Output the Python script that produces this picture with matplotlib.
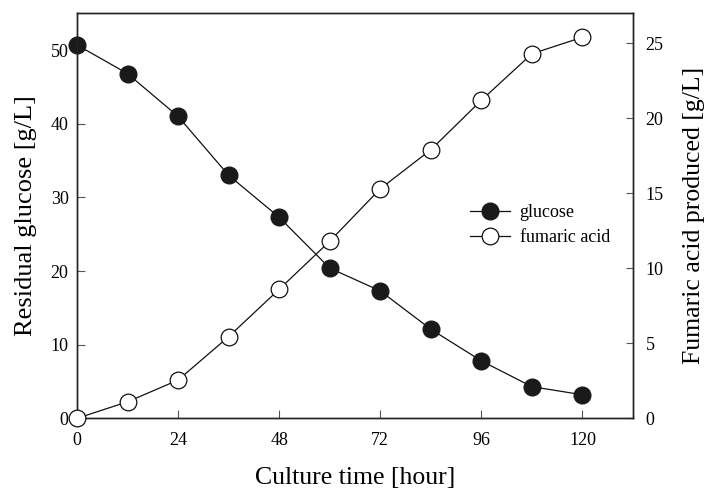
import matplotlib.pyplot as plt

# temps de culture (h)
temps = [0, 12, 24, 36, 48, 60, 72, 84, 96, 108, 120]
# glucose residuel (g/L)
glucose = [50.7, 46.8, 41.0, 33.0, 27.3, 20.4, 17.3, 12.1, 7.8, 4.3, 3.2]
# acide fumarique produit (g/L)
fumarique = [0.0, 1.1, 2.55, 5.44, 8.6, 11.8, 15.3, 17.9, 21.2, 24.3, 25.4]

x_ticks = [0, 24, 48, 72, 96, 120]
y1_ticks = [0, 10, 20, 30, 40, 50]
y2_ticks = [0, 5, 10, 15, 20, 25]

plt.rcParams['font.family'] = ['Liberation Serif', 'DejaVu Serif']

fig = plt.figure(figsize=(7.06, 4.91), dpi=100)
ax1 = fig.add_axes([0.109, 0.148, 0.7876, 0.825])
ax2 = ax1.twinx()

l1, = ax1.plot(temps, glucose, color='#111111', lw=0.9, marker='o', ms=12,
               mfc='#1a1a1a', mec='#1a1a1a', clip_on=False, label='glucose', zorder=3)
l2, = ax2.plot(temps, fumarique, color='#111111', lw=0.9, marker='o', ms=12,
               mfc='white', mec='#111111', mew=0.9, clip_on=False, label='fumaric acid', zorder=3)

ax1.set_xlim(0, 132)
ax1.set_ylim(0, 55)
ax2.set_ylim(0, 27)

ax1.set_xticks(x_ticks)
ax1.set_yticks(y1_ticks)
ax2.set_yticks(y2_ticks)

ax1.tick_params(axis='both', direction='in', length=6, width=0.8, labelsize=13, color='#555555', pad=6)
ax2.tick_params(axis='y', direction='in', length=5, width=0.8, labelsize=13, color='#555555', pad=9)
ax1.tick_params(axis='x', pad=10)

for a in (ax1, ax2):
    for s in a.spines.values():
        s.set_linewidth(1.0)
        s.set_color('#222222')

ax1.set_xlabel('Culture time [hour]', fontsize=18.5, labelpad=13)
ax1.set_ylabel('Residual glucose [g/L]', fontsize=19, labelpad=10)
ax2.set_ylabel('Fumaric acid produced [g/L]', fontsize=18.5, labelpad=14)

ax2.legend(handles=[l1, l2], loc='center left', bbox_to_anchor=(0.707, 0.477),
           frameon=False, fontsize=13, handlelength=2.2, handletextpad=0.55,
           labelspacing=0.45, borderpad=0, borderaxespad=0)

fig.savefig('out.png', dpi=100)
